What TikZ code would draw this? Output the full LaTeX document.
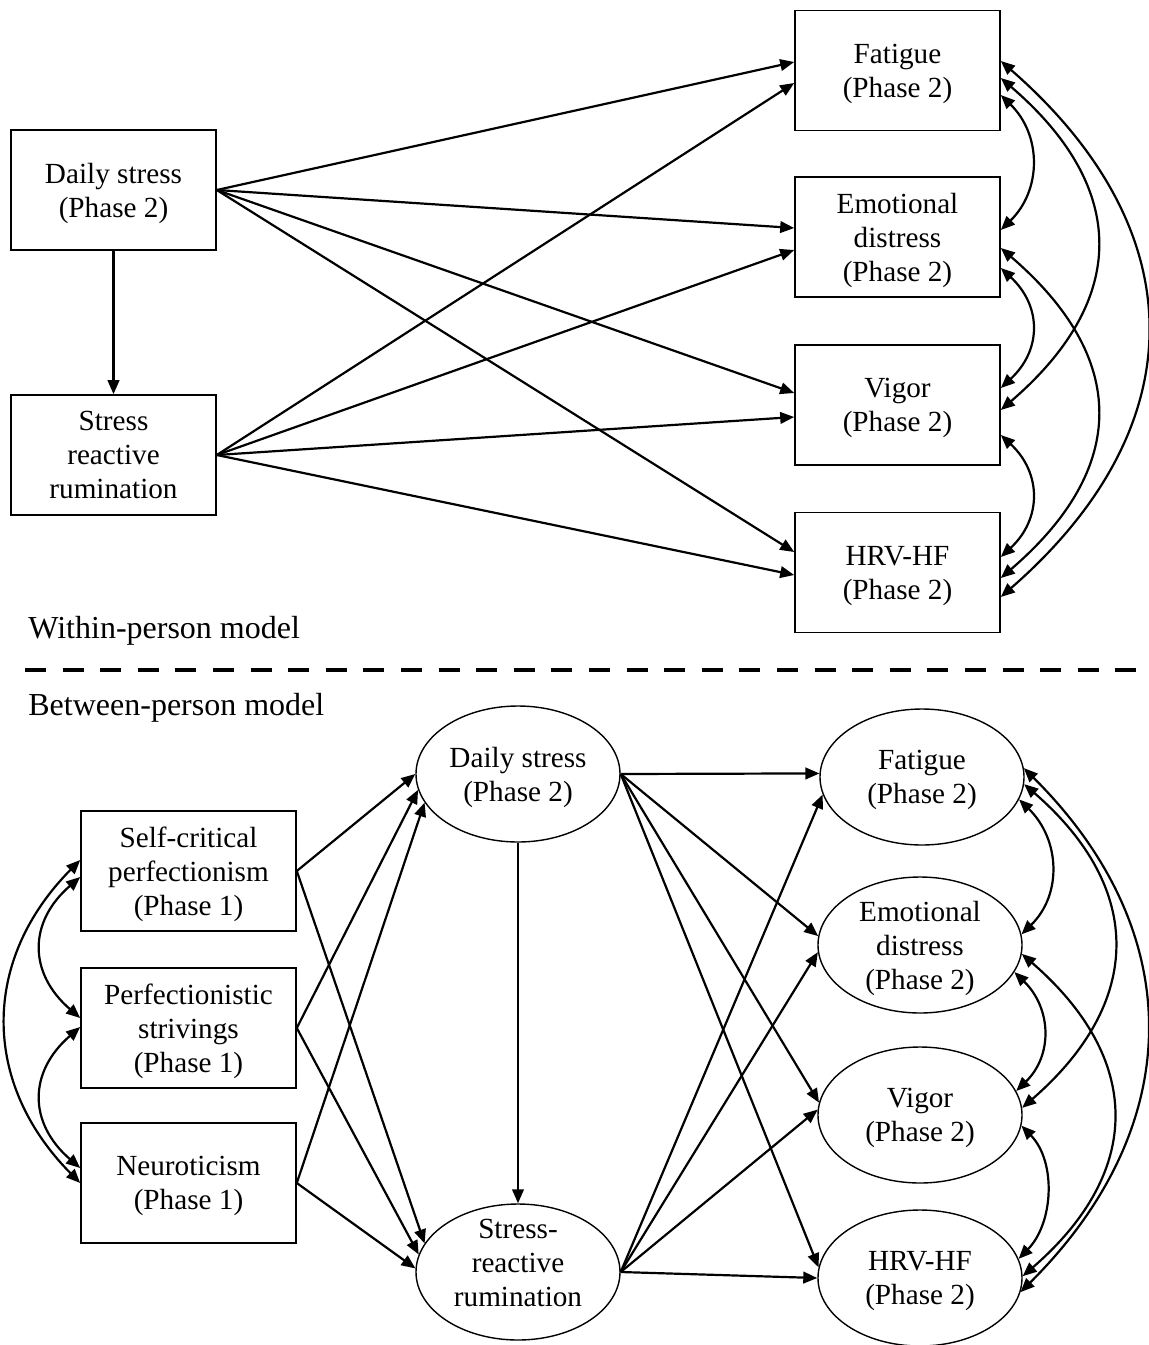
\documentclass[tikz,border=0pt]{standalone}
\usepackage{fontspec}
\setmainfont{Liberation Serif}
\usetikzlibrary{arrows.meta,shapes.geometric,calc}

\begin{document}
\begin{tikzpicture}[x=0.5pt,y=-0.5pt,
  font=\fontsize{14.6}{17}\selectfont,
  >={Triangle[length=7pt,width=5.8pt]},
  box/.style={draw,line width=0.8pt,align=center,inner sep=0pt,text depth=-2pt,
    minimum width=102.5pt,minimum height=60pt},
  oval/.style={draw,ellipse,line width=0.7pt,align=center,inner sep=-3pt,text depth=0pt,
    minimum width=102pt,minimum height=68pt},
  arr/.style={->,line width=1.1pt},
  cov/.style={<->,line width=1.1pt},
  title/.style={anchor=base west,inner sep=0pt,font=\fontsize{16}{19}\selectfont}]
  % frame
  \useasboundingbox (0,0) rectangle (1149,1345);

  % within-person model
  \node[box] (dsW) at (113.5,190) {Daily stress\\(Phase 2)};
  \node[box] (rumW) at (113.5,455) {Stress\\reactive\\rumination};
  \node[box] (fatW) at (897.5,70.5) {Fatigue\\(Phase 2)};
  \node[box] (emoW) at (897.5,237) {Emotional\\distress\\(Phase 2)};
  \node[box] (vigW) at (897.5,405) {Vigor\\(Phase 2)};
  \node[box] (hrvW) at (897.5,572.5) {HRV-HF\\(Phase 2)};

  \draw[arr] (dsW) -- (rumW);
  \foreach \n/\dy in {fatW/-8.5,emoW/-9,vigW/-12,hrvW/-20.5}
    \draw[arr] (dsW.east) -- ($(\n.west)+(0,\dy)$);
  \foreach \n/\dy in {fatW/12.5,emoW/13,vigW/12,hrvW/2.5}
    \draw[arr] (rumW.east) -- ($(\n.west)+(0,\dy)$);

  % covariances (within)
  \foreach \a/\b/\ya/\yb/\w/\h in {
      fatW/emoW/24.5/-7/41/40, emoW/vigW/31/-17/41/38, vigW/hrvW/30/-15.5/41/38,
      fatW/vigW/7.5/5/128/110, emoW/hrvW/11/5.5/128/110,
      fatW/hrvW/-9.5/24.5/195/170}
    \draw[cov] ($(\a.east)+(0,\ya)$) .. controls +(\w,\h) and +(\w,-\h) .. ($(\b.east)+(0,\yb)$);

  % separator
  \node[title] (lblW) at (28,638) {Within-person model};
  \draw[line width=2.3pt,dash pattern=on 10.5pt off 8.3pt] (25,670) -- (1149,670);
  \node[title] (lblB) at (28,715) {Between-person model};

  % between-person model
  \node[box,minimum width=107.5pt] (scp) at (188.5,871) {Self-critical\\perfectionism\\(Phase 1)};
  \node[box,minimum width=107.5pt] (psv) at (188.5,1028) {Perfectionistic\\strivings\\(Phase 1)};
  \node[box,minimum width=107.5pt] (neu) at (188.5,1183) {Neuroticism\\(Phase 1)};
  \node[oval] (dsB) at (518,774) {Daily stress\\(Phase 2)};
  \node[oval,text depth=9pt] (rumB) at (518,1272) {Stress-\\reactive\\rumination};
  \node[oval] (fatB) at (922,777) {Fatigue\\(Phase 2)};
  \node[oval] (emoB) at (920,945) {Emotional\\distress\\(Phase 2)};
  \node[oval] (vigB) at (920,1115) {Vigor\\(Phase 2)};
  \node[oval] (hrvB) at (920,1278) {HRV-HF\\(Phase 2)};

  \foreach \n/\a/\b in {scp/180/163,psv/189/170.5,neu/197/178} {
    \draw[arr] (\n.east) -- (dsB.\a);
    \draw[arr] (\n.east) -- (rumB.\b);
  }
  \draw[arr] (dsB) -- (rumB);
  \foreach \n/\a/\b in {fatB/178/190,emoB/175/184.5,vigB/173/177,hrvB/174/180} {
    \draw[arr] (dsB.east) -- (\n.\a);
    \draw[arr] (rumB.east) -- (\n.\b);
  }

  % covariances (between)
  \foreach \a/\b/\pa/\pb/\w/\h in {
      fatB/emoB/-13.5/6.8/41/40, emoB/vigB/-16/14.8/37/36, vigB/hrvB/-6.7/11.6/35/36,
      fatB/vigB/-4.5/4.5/121/105, emoB/hrvB/-5.6/1.7/121/105,
      fatB/hrvB/5/-8/166/165}
    \draw[cov] (\a.\pa) .. controls +(\w,\h) and +(\w,-\h) .. (\b.\pb);
  \foreach \a/\b/\ya/\yb/\w/\h in {
      scp/psv/6/-10/-52/45, psv/neu/-1/-15/-52/45, scp/neu/-11/0/-99/100}
    \draw[cov] ($(\a.west)+(0,\ya)$) .. controls +(\w,\h) and +(\w,-\h) .. ($(\b.west)+(0,\yb)$);
\end{tikzpicture}
\end{document}
